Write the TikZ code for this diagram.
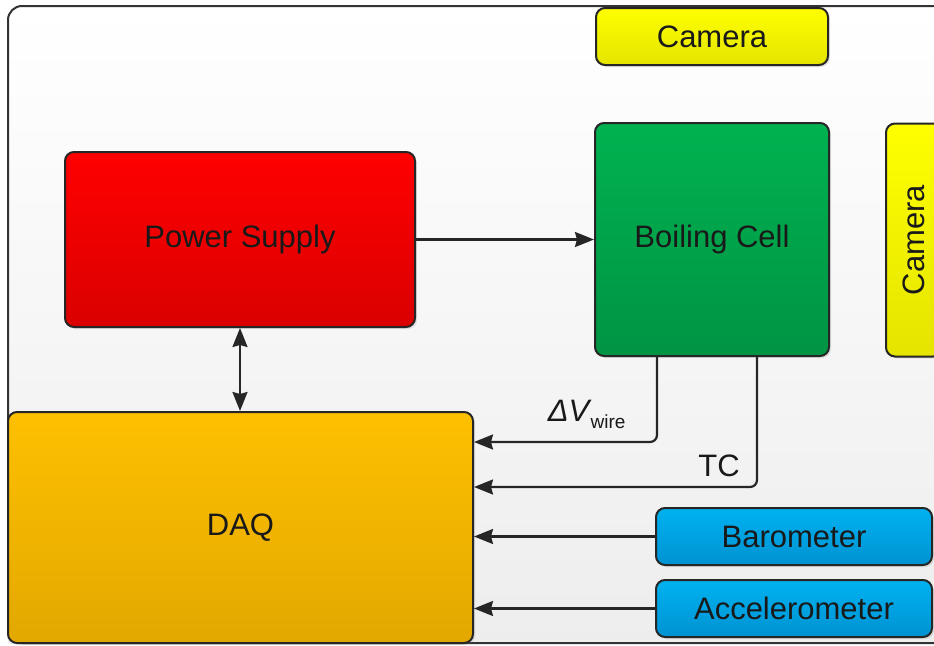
\documentclass[tikz,border=0pt]{standalone}
\usepackage{fontspec}
\newfontfamily\arialfont{Liberation Sans}
\usetikzlibrary{arrows.meta,shadows}
\definecolor{camtop}{RGB}{255,255,0}
\definecolor{cambot}{RGB}{228,228,0}
\definecolor{redtop}{RGB}{255,0,0}
\definecolor{redbot}{RGB}{218,0,0}
\definecolor{greentop}{RGB}{0,178,80}
\definecolor{greenbot}{RGB}{0,148,68}
\definecolor{daqtop}{RGB}{255,192,0}
\definecolor{daqbot}{RGB}{226,168,0}
\definecolor{bluetop}{RGB}{0,178,240}
\definecolor{bluebot}{RGB}{0,146,210}

\begin{document}
\begin{tikzpicture}[x=1pt, y=-1pt,
    unitbox/.style={draw=black!85, line width=2pt, rounded corners=9pt,
        font=\arialfont\fontsize{31}{35}\selectfont, text=black!90,
        inner sep=0pt, align=center,
        drop shadow={shadow xshift=2pt, shadow yshift=-2pt, opacity=0.18}},
    conn/.style={draw=black!85, line width=2.2pt,
        -{Stealth[length=19pt, width=15pt, inset=2pt]}},
    connboth/.style={conn, {Stealth[length=19pt, width=15pt, inset=2pt]}-{Stealth[length=19pt, width=15pt, inset=2pt]}}]

\useasboundingbox (0,0) rectangle (934,645);

% Rahmen mit Hintergrund
\path[top color=white, bottom color=black!7] (8,6) rectangle (960,643);
\draw[black!80, line width=2pt, rounded corners=14pt]
    (960,6) -- (8,6) -- (8,643) -- (960,643);

% Bloecke
\node[unitbox, top color=camtop, bottom color=cambot,
      minimum width=232, minimum height=57] (cam1) at (712,36.5) {Camera};
\node[unitbox, top color=redtop, bottom color=redbot,
      minimum width=350, minimum height=175] (ps) at (240,239.5) {Power Supply};
\node[unitbox, top color=greentop, bottom color=greenbot,
      minimum width=234, minimum height=233] (bc) at (712,239.5) {Boiling Cell};
\node[unitbox, top color=camtop, bottom color=cambot, rotate=90,
      minimum width=233, minimum height=56] (cam2) at (914,240) {Camera};
\node[unitbox, top color=daqtop, bottom color=daqbot,
      minimum width=465, minimum height=231] (daq) at (240.5,527.5) {DAQ};
\node[unitbox, top color=bluetop, bottom color=bluebot,
      minimum width=276, minimum height=57] (baro) at (794,536.5) {Barometer};
\node[unitbox, top color=bluetop, bottom color=bluebot,
      minimum width=276, minimum height=57] (acc) at (794,608.5) {Accelerometer};

% Verbindungen
\draw[conn] (ps.east) -- (bc.west);
\draw[connboth] (ps.south) -- (ps.south |- daq.north);
\draw[conn, rounded corners=7pt] (bc.south -| 657,0) |- (daq.east |- 0,442);
\draw[conn, rounded corners=7pt] (bc.south -| 757,0) |- (daq.east |- 0,487);
\draw[conn] (baro.west) -- (baro.west -| daq.east);
\draw[conn] (acc.west) -- (acc.west -| daq.east);

% Beschriftungen
\node[font=\arialfont\fontsize{31}{35}\selectfont, text=black!90, anchor=base east]
    (dv) at (629,421) {\textit{ΔV}\kern-1pt\raisebox{-0.25em}{\fontsize{19}{21}\selectfont wire}};
\node[font=\arialfont\fontsize{31}{35}\selectfont, text=black!90, anchor=base]
    (tc) at (719,476) {TC};

\end{tikzpicture}
\end{document}
